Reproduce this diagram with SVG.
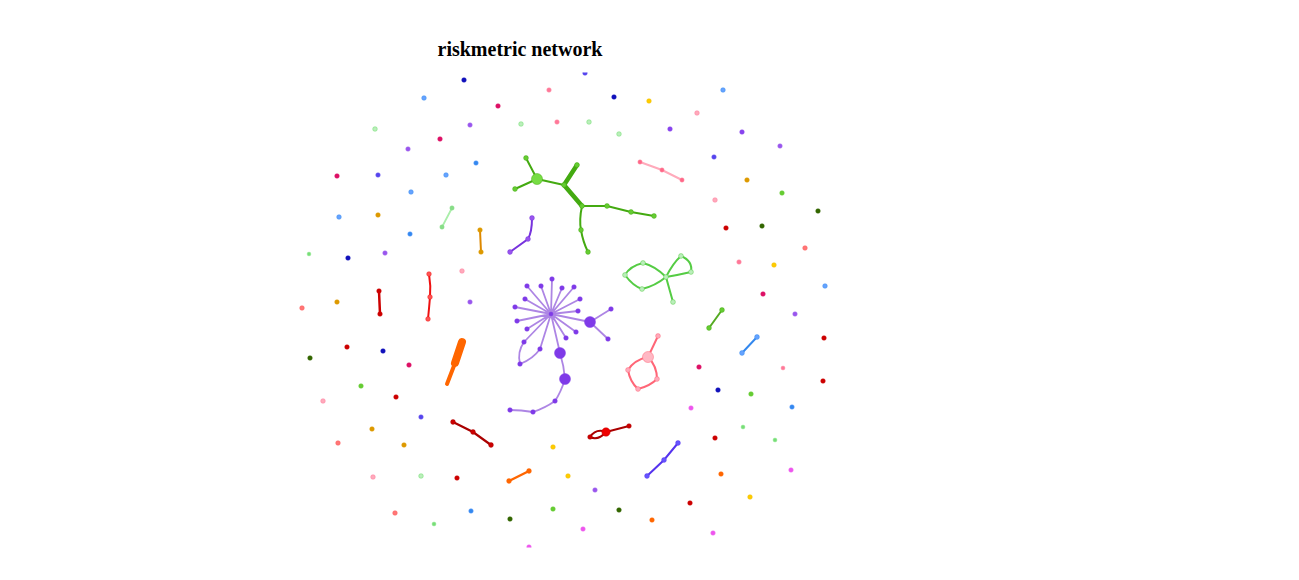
<svg xmlns="http://www.w3.org/2000/svg" width="1299" height="580" viewBox="0 0 1299 580">
<style>
.t{font-family:"Liberation Serif",serif;font-weight:bold;font-size:20px;fill:#000}
.n{stroke-width:0.8;stroke-opacity:0.6}
.e{fill:none;stroke-linecap:round}
</style>
<defs><clipPath id="cp"><rect x="0" y="72.5" width="1299" height="475"/></clipPath></defs>
<rect width="1299" height="580" fill="#fff"/>
<text class="t" x="520" y="56" text-anchor="middle">riskmetric network</text>
<g clip-path="url(#cp)">
<g id="edges">
<path class="e" d="M452,208 L442,227" stroke="#aaeeaa" stroke-width="1.8"/>
<path class="e" d="M480,230 L481,252" stroke="#dd8800" stroke-width="2"/>
<path class="e" d="M532,218 Q532,232 528,239 L510,252" stroke="#7733dd" stroke-width="2"/>
<path class="e" d="M429,274 Q431,286 430,297 Q429,309 428,319" stroke="#ee1111" stroke-width="2"/>
<path class="e" d="M379,291 L380,314" stroke="#cc0000" stroke-width="2.5"/>
<path class="e" d="M462,342 L455,363" stroke="#ff6600" stroke-width="8"/>
<path class="e" d="M457,358 L447,384" stroke="#ff6600" stroke-width="4"/>
<g stroke="#44aa11">
<path class="e" d="M537,179 L526,158 M537,179 L515,189 M537,179 L564,185 M582,206 L607,206 L631,212 L654,216 M582,206 Q579,220 581,230 Q583,242 588,252" stroke-width="2"/>
<path class="e" d="M564,185 L577,165 M564,185 L582,206" stroke-width="4.5"/>
</g>
<path class="e" d="M640,162 L662,170 L682,180" stroke="#ffaabb" stroke-width="2"/>
<path class="e" d="M666,277 Q655,266 643,263 Q630,266 625,275 Q633,286 642,289 Q655,286 666,277 Q673,263 681,256 Q693,261 691,272 Q678,275 666,277 L673,302" stroke="#55cc44" stroke-width="2"/>
<path class="e" d="M722,310 L709,328" stroke="#55aa22" stroke-width="2"/>
<path class="e" d="M757,337 L742,353" stroke="#3388ee" stroke-width="2"/>
<path class="e" d="M648,357 L658,336 M648,357 Q634,360 628,370 Q630,382 638,389 Q650,386 657,379 Q657,366 648,357" stroke="#ff6677" stroke-width="2"/>
<path class="e" d="M453,422 L473,432 L491,445" stroke="#aa0000" stroke-width="2.2"/>
<path class="e" d="M529,471 L509,481" stroke="#ff6600" stroke-width="2.5"/>
<path class="e" d="M590,437 Q596,428 606,432 Q598,441 590,437 M606,432 L629,426" stroke="#aa0000" stroke-width="2"/>
<path class="e" d="M678,443 L664,460 L647,476" stroke="#5533ee" stroke-width="2"/>
<g stroke="#9966dd" stroke-opacity="0.8" stroke-width="1.8" class="e">
<path d="M551,314 L552,279 M551,314 L541,286 M551,314 L527,286 M551,314 L562,288 M551,314 L574,287 M551,314 L525,299 M551,314 L580,299 M551,314 L515,307 M551,314 L578,311 M551,314 L517,321 M551,314 L527,329 M551,314 L576,332 M551,314 L566,338 M551,314 L540,349 M551,314 L524,342 M551,314 L590,322 M551,314 L560,353"/>
<path d="M590,322 L611,309 M590,322 L608,339"/>
<path d="M524,342 Q517,352 520,364 Q533,359 540,349"/>
<path d="M560,353 Q564,366 565,379 Q561,392 555,401 Q545,408 533,412 Q521,410 510,410"/>
</g>
</g>
<g id="star-nodes" fill="#7f3ae8" stroke="#7f3ae8" class="n">
<circle cx="551" cy="314" r="2"/>
<circle cx="552" cy="279" r="2.3"/><circle cx="541" cy="286" r="2.3"/><circle cx="527" cy="286" r="2.3"/><circle cx="562" cy="288" r="2.3"/><circle cx="574" cy="287" r="2.3"/><circle cx="525" cy="299" r="2.3"/><circle cx="580" cy="299" r="2.3"/><circle cx="515" cy="307" r="2.3"/><circle cx="578" cy="311" r="2.3"/><circle cx="517" cy="321" r="2.3"/><circle cx="527" cy="329" r="2.3"/><circle cx="576" cy="332" r="2.3"/><circle cx="566" cy="338" r="2.3"/><circle cx="540" cy="349" r="2.3"/><circle cx="524" cy="342" r="2.3"/>
<circle cx="520" cy="364" r="2.3"/><circle cx="611" cy="309" r="2.3"/><circle cx="608" cy="339" r="2.3"/>
<circle cx="555" cy="401" r="2.3"/><circle cx="533" cy="412" r="2.3"/><circle cx="510" cy="410" r="2.3"/>
<circle cx="590" cy="322" r="5.5"/><circle cx="560" cy="353" r="5.5"/><circle cx="565" cy="379" r="5.5"/>
</g>
<g id="green-tree" fill="#66cc33" stroke="#44aa11" class="n">
<circle cx="537" cy="179" r="5.5" fill="#77dd44"/>
<circle cx="526" cy="158" r="2.4"/><circle cx="515" cy="189" r="2.4"/><circle cx="564" cy="185" r="2.4"/><circle cx="577" cy="165" r="2.4"/><circle cx="582" cy="206" r="2.4"/><circle cx="607" cy="206" r="2.4"/><circle cx="631" cy="212" r="2.4"/><circle cx="654" cy="216" r="2.4"/><circle cx="581" cy="230" r="2.4"/><circle cx="588" cy="252" r="2.4"/>
</g>
<g id="green-bowtie" fill="#bbeebb" stroke="#55cc44" class="n">
<circle cx="666" cy="277" r="2.4"/><circle cx="643" cy="263" r="2.4"/><circle cx="625" cy="275" r="2.4"/><circle cx="642" cy="289" r="2.4"/><circle cx="681" cy="256" r="2.4"/><circle cx="691" cy="272" r="2.4"/><circle cx="673" cy="302" r="2.4"/>
</g>
<g id="pink-cluster" fill="#ffaabb" stroke="#ff6677" class="n">
<circle cx="648" cy="357" r="5.5" fill="#ffb8c4"/>
<circle cx="658" cy="336" r="2.4"/><circle cx="628" cy="370" r="2.4"/><circle cx="638" cy="389" r="2.4"/><circle cx="657" cy="379" r="2.4"/>
</g>
<g id="small-components" class="n">
<circle cx="452" cy="208" r="2.2" fill="#88dd88" stroke="#88dd88"/><circle cx="442" cy="227" r="2.2" fill="#88dd88" stroke="#88dd88"/>
<circle cx="480" cy="230" r="2.3" fill="#dd9900" stroke="#dd9900"/><circle cx="481" cy="252" r="2.3" fill="#dd9900" stroke="#dd9900"/>
<circle cx="532" cy="218" r="2.4" fill="#9955ee" stroke="#7733dd"/><circle cx="528" cy="239" r="2.4" fill="#9955ee" stroke="#7733dd"/><circle cx="510" cy="252" r="2.4" fill="#9955ee" stroke="#7733dd"/>
<circle cx="429" cy="274" r="2.3" fill="#ff5555" stroke="#ee1111"/><circle cx="430" cy="297" r="2.3" fill="#ff5555" stroke="#ee1111"/><circle cx="428" cy="319" r="2.3" fill="#ff5555" stroke="#ee1111"/>
<circle cx="379" cy="291" r="2.3" fill="#cc0000" stroke="#cc0000"/><circle cx="380" cy="314" r="2.3" fill="#cc0000" stroke="#cc0000"/>
<circle cx="640" cy="162" r="2.2" fill="#ff6688" stroke="#ff99aa"/><circle cx="662" cy="170" r="2.2" fill="#ff6688" stroke="#ff99aa"/><circle cx="682" cy="180" r="2.2" fill="#ff6688" stroke="#ff99aa"/>
<circle cx="722" cy="310" r="2.4" fill="#66cc33" stroke="#44aa11"/><circle cx="709" cy="328" r="2.4" fill="#66cc33" stroke="#44aa11"/>
<circle cx="757" cy="337" r="2.4" fill="#66a3ff" stroke="#3388ee"/><circle cx="742" cy="353" r="2.4" fill="#66a3ff" stroke="#3388ee"/>
<circle cx="453" cy="422" r="2.4" fill="#cc0000" stroke="#aa0000"/><circle cx="473" cy="432" r="2.4" fill="#cc0000" stroke="#aa0000"/><circle cx="491" cy="445" r="2.4" fill="#cc0000" stroke="#aa0000"/>
<circle cx="529" cy="471" r="2.4" fill="#ff6600" stroke="#ff6600"/><circle cx="509" cy="481" r="2.4" fill="#ff6600" stroke="#ff6600"/>
<circle cx="606" cy="432" r="4.2" fill="#ee0000" stroke="#cc0000"/><circle cx="590" cy="437" r="2.3" fill="#cc0000" stroke="#aa0000"/><circle cx="629" cy="426" r="2.3" fill="#cc0000" stroke="#aa0000"/>
<circle cx="678" cy="443" r="2.4" fill="#6655ff" stroke="#5533ee"/><circle cx="664" cy="460" r="2.4" fill="#6655ff" stroke="#5533ee"/><circle cx="647" cy="476" r="2.4" fill="#6655ff" stroke="#5533ee"/>
</g>
<g id="singletons" class="n">
<g id="s1"><circle cx="464" cy="80" r="2.3" fill="#1111bb" stroke="#1111bb"/></g>
<g id="s2"><circle cx="585" cy="73" r="2.3" fill="#5544ee" stroke="#5544ee"/></g>
<g id="s3"><circle cx="424" cy="98" r="2.3" fill="#66a3ff" stroke="#3388ee"/></g>
<g id="s4"><circle cx="498" cy="106" r="2.3" fill="#dd1166" stroke="#dd1166"/></g>
<g id="s5"><circle cx="549" cy="90" r="2.3" fill="#ff7799" stroke="#ff99aa"/></g>
<g id="s6"><circle cx="557" cy="122" r="2.3" fill="#ff7799" stroke="#ff99aa"/></g>
<g id="s7"><circle cx="521" cy="124" r="2.3" fill="#bbeebb" stroke="#66dd66"/></g>
<g id="s8"><circle cx="470" cy="125" r="2.3" fill="#9955ee" stroke="#aa77ee"/></g>
<g id="s9"><circle cx="375" cy="129" r="2.3" fill="#bbeebb" stroke="#66dd66"/></g>
<g id="s10"><circle cx="440" cy="139" r="2.3" fill="#dd1166" stroke="#dd1166"/></g>
<g id="s11"><circle cx="408" cy="149" r="2.3" fill="#9955ee" stroke="#aa77ee"/></g>
<g id="s12"><circle cx="476" cy="163" r="2.3" fill="#3388ee" stroke="#66a3ff"/></g>
<g id="s13"><circle cx="337" cy="176" r="2.3" fill="#dd1166" stroke="#dd1166"/></g>
<g id="s14"><circle cx="378" cy="175" r="2.3" fill="#5544ee" stroke="#7766ee"/></g>
<g id="s15"><circle cx="446" cy="175" r="2.3" fill="#66a3ff" stroke="#3388ee"/></g>
<g id="s16"><circle cx="411" cy="192" r="2.3" fill="#66a3ff" stroke="#3388ee"/></g>
<g id="s17"><circle cx="339" cy="217" r="2.3" fill="#66a3ff" stroke="#3388ee"/></g>
<g id="s18"><circle cx="378" cy="215" r="2.3" fill="#dd9900" stroke="#dd9900"/></g>
<g id="s19"><circle cx="614" cy="97" r="2.3" fill="#1111bb" stroke="#1111bb"/></g>
<g id="s20"><circle cx="649" cy="101" r="2.3" fill="#ffcc00" stroke="#eebb00"/></g>
<g id="s21"><circle cx="723" cy="90" r="2.3" fill="#66a3ff" stroke="#3388ee"/></g>
<g id="s22"><circle cx="697" cy="113" r="2.3" fill="#ffaabb" stroke="#ff7799"/></g>
<g id="s23"><circle cx="589" cy="122" r="2.3" fill="#bbeebb" stroke="#66dd66"/></g>
<g id="s24"><circle cx="619" cy="134" r="2.3" fill="#bbeebb" stroke="#66dd66"/></g>
<g id="s25"><circle cx="670" cy="129" r="2.3" fill="#8844ee" stroke="#8844ee"/></g>
<g id="s26"><circle cx="742" cy="132" r="2.3" fill="#8844ee" stroke="#8844ee"/></g>
<g id="s27"><circle cx="780" cy="146" r="2.3" fill="#9955ee" stroke="#aa77ee"/></g>
<g id="s28"><circle cx="714" cy="157" r="2.3" fill="#5544ee" stroke="#7766ee"/></g>
<g id="s29"><circle cx="747" cy="180" r="2.3" fill="#dd9900" stroke="#dd9900"/></g>
<g id="s30"><circle cx="782" cy="193" r="2.3" fill="#66cc33" stroke="#66cc33"/></g>
<g id="s31"><circle cx="818" cy="211" r="2.3" fill="#336600" stroke="#336600"/></g>
<g id="s32"><circle cx="715" cy="200" r="2.3" fill="#ffaabb" stroke="#ff7799"/></g>
<g id="s33"><circle cx="726" cy="228" r="2.3" fill="#cc0000" stroke="#cc0000"/></g>
<g id="s34"><circle cx="762" cy="226" r="2.3" fill="#336600" stroke="#336600"/></g>
<g id="s35"><circle cx="410" cy="234" r="2.3" fill="#3388ee" stroke="#66a3ff"/></g>
<g id="s36"><circle cx="309" cy="254" r="1.9" fill="#77dd77" stroke="#99ee99"/></g>
<g id="s37"><circle cx="348" cy="258" r="2.3" fill="#1111bb" stroke="#1111bb"/></g>
<g id="s38"><circle cx="385" cy="253" r="2.3" fill="#9955ee" stroke="#aa77ee"/></g>
<g id="s39"><circle cx="462" cy="271" r="2.3" fill="#ffaabb" stroke="#ff7799"/></g>
<g id="s40"><circle cx="337" cy="302" r="2.3" fill="#dd9900" stroke="#dd9900"/></g>
<g id="s41"><circle cx="302" cy="308" r="2.3" fill="#ff7777" stroke="#ff5555"/></g>
<g id="s42"><circle cx="470" cy="302" r="2.3" fill="#9955ee" stroke="#aa77ee"/></g>
<g id="s43"><circle cx="347" cy="347" r="2.3" fill="#cc0000" stroke="#cc0000"/></g>
<g id="s44"><circle cx="310" cy="358" r="2.3" fill="#336600" stroke="#336600"/></g>
<g id="s45"><circle cx="383" cy="351" r="2.3" fill="#1111bb" stroke="#1111bb"/></g>
<g id="s46"><circle cx="409" cy="365" r="2.3" fill="#dd1166" stroke="#dd1166"/></g>
<g id="s47"><circle cx="361" cy="386" r="2.3" fill="#66cc33" stroke="#66cc33"/></g>
<g id="s48"><circle cx="805" cy="248" r="2.3" fill="#ff7777" stroke="#ff5555"/></g>
<g id="s49"><circle cx="739" cy="262" r="2.3" fill="#ff7799" stroke="#ff99aa"/></g>
<g id="s50"><circle cx="774" cy="265" r="2.3" fill="#ffcc00" stroke="#eebb00"/></g>
<g id="s51"><circle cx="825" cy="286" r="2.3" fill="#66a3ff" stroke="#3388ee"/></g>
<g id="s52"><circle cx="763" cy="294" r="2.3" fill="#dd1166" stroke="#dd1166"/></g>
<g id="s53"><circle cx="795" cy="314" r="2.3" fill="#9955ee" stroke="#aa77ee"/></g>
<g id="s54"><circle cx="824" cy="338" r="2.3" fill="#cc0000" stroke="#cc0000"/></g>
<g id="s55"><circle cx="699" cy="367" r="2.3" fill="#dd1166" stroke="#dd1166"/></g>
<g id="s56"><circle cx="783" cy="368" r="2" fill="#ff7799" stroke="#ff99aa"/></g>
<g id="s57"><circle cx="823" cy="381" r="2.3" fill="#cc0000" stroke="#cc0000"/></g>
<g id="s58"><circle cx="718" cy="390" r="2.3" fill="#1111bb" stroke="#1111bb"/></g>
<g id="s59"><circle cx="751" cy="394" r="2.3" fill="#66cc33" stroke="#66cc33"/></g>
<g id="s60"><circle cx="691" cy="408" r="2.3" fill="#ee55ee" stroke="#ee77ee"/></g>
<g id="s61"><circle cx="792" cy="407" r="2.3" fill="#3388ee" stroke="#66a3ff"/></g>
<g id="s62"><circle cx="743" cy="427" r="2" fill="#77dd77" stroke="#99ee99"/></g>
<g id="s63"><circle cx="775" cy="440" r="2" fill="#77dd77" stroke="#99ee99"/></g>
<g id="s64"><circle cx="715" cy="438" r="2.3" fill="#cc0000" stroke="#cc0000"/></g>
<g id="s65"><circle cx="568" cy="476" r="2.3" fill="#ffcc00" stroke="#eebb00"/></g>
<g id="s66"><circle cx="721" cy="474" r="2.3" fill="#ff6600" stroke="#ff6600"/></g>
<g id="s67"><circle cx="791" cy="470" r="2.3" fill="#ee55ee" stroke="#ee77ee"/></g>
<g id="s68"><circle cx="595" cy="490" r="2.3" fill="#9955ee" stroke="#aa77ee"/></g>
<g id="s69"><circle cx="750" cy="497" r="2.3" fill="#ffcc00" stroke="#eebb00"/></g>
<g id="s70"><circle cx="619" cy="510" r="2.3" fill="#336600" stroke="#336600"/></g>
<g id="s71"><circle cx="690" cy="503" r="2.3" fill="#cc0000" stroke="#cc0000"/></g>
<g id="s72"><circle cx="652" cy="520" r="2.3" fill="#ff6600" stroke="#ff6600"/></g>
<g id="s73"><circle cx="583" cy="529" r="2.3" fill="#ee55ee" stroke="#ee77ee"/></g>
<g id="s74"><circle cx="713" cy="533" r="2.3" fill="#ee55ee" stroke="#ee77ee"/></g>
<g id="s75"><circle cx="396" cy="397" r="2.3" fill="#cc0000" stroke="#cc0000"/></g>
<g id="s76"><circle cx="323" cy="401" r="2.3" fill="#ffaabb" stroke="#ff7799"/></g>
<g id="s77"><circle cx="421" cy="417" r="2.3" fill="#5544ee" stroke="#7766ee"/></g>
<g id="s78"><circle cx="372" cy="429" r="2.3" fill="#dd9900" stroke="#dd9900"/></g>
<g id="s79"><circle cx="338" cy="443" r="2.3" fill="#ff7777" stroke="#ff5555"/></g>
<g id="s80"><circle cx="404" cy="445" r="2.3" fill="#dd9900" stroke="#dd9900"/></g>
<g id="s81"><circle cx="553" cy="447" r="2.3" fill="#ffcc00" stroke="#eebb00"/></g>
<g id="s82"><circle cx="373" cy="477" r="2.3" fill="#ffaabb" stroke="#ff7799"/></g>
<g id="s83"><circle cx="421" cy="476" r="2.3" fill="#bbeebb" stroke="#66dd66"/></g>
<g id="s84"><circle cx="457" cy="478" r="2.3" fill="#cc0000" stroke="#cc0000"/></g>
<g id="s85"><circle cx="553" cy="509" r="2.3" fill="#66cc33" stroke="#66cc33"/></g>
<g id="s86"><circle cx="395" cy="513" r="2.3" fill="#ff7777" stroke="#ff5555"/></g>
<g id="s87"><circle cx="471" cy="511" r="2.3" fill="#3388ee" stroke="#66a3ff"/></g>
<g id="s88"><circle cx="434" cy="524" r="2" fill="#77dd77" stroke="#99ee99"/></g>
<g id="s89"><circle cx="510" cy="519" r="2.3" fill="#336600" stroke="#336600"/></g>
<g id="s90"><circle cx="529" cy="547" r="2.3" fill="#ee55ee" stroke="#ee77ee"/></g>
</g>
</g>
</svg>
